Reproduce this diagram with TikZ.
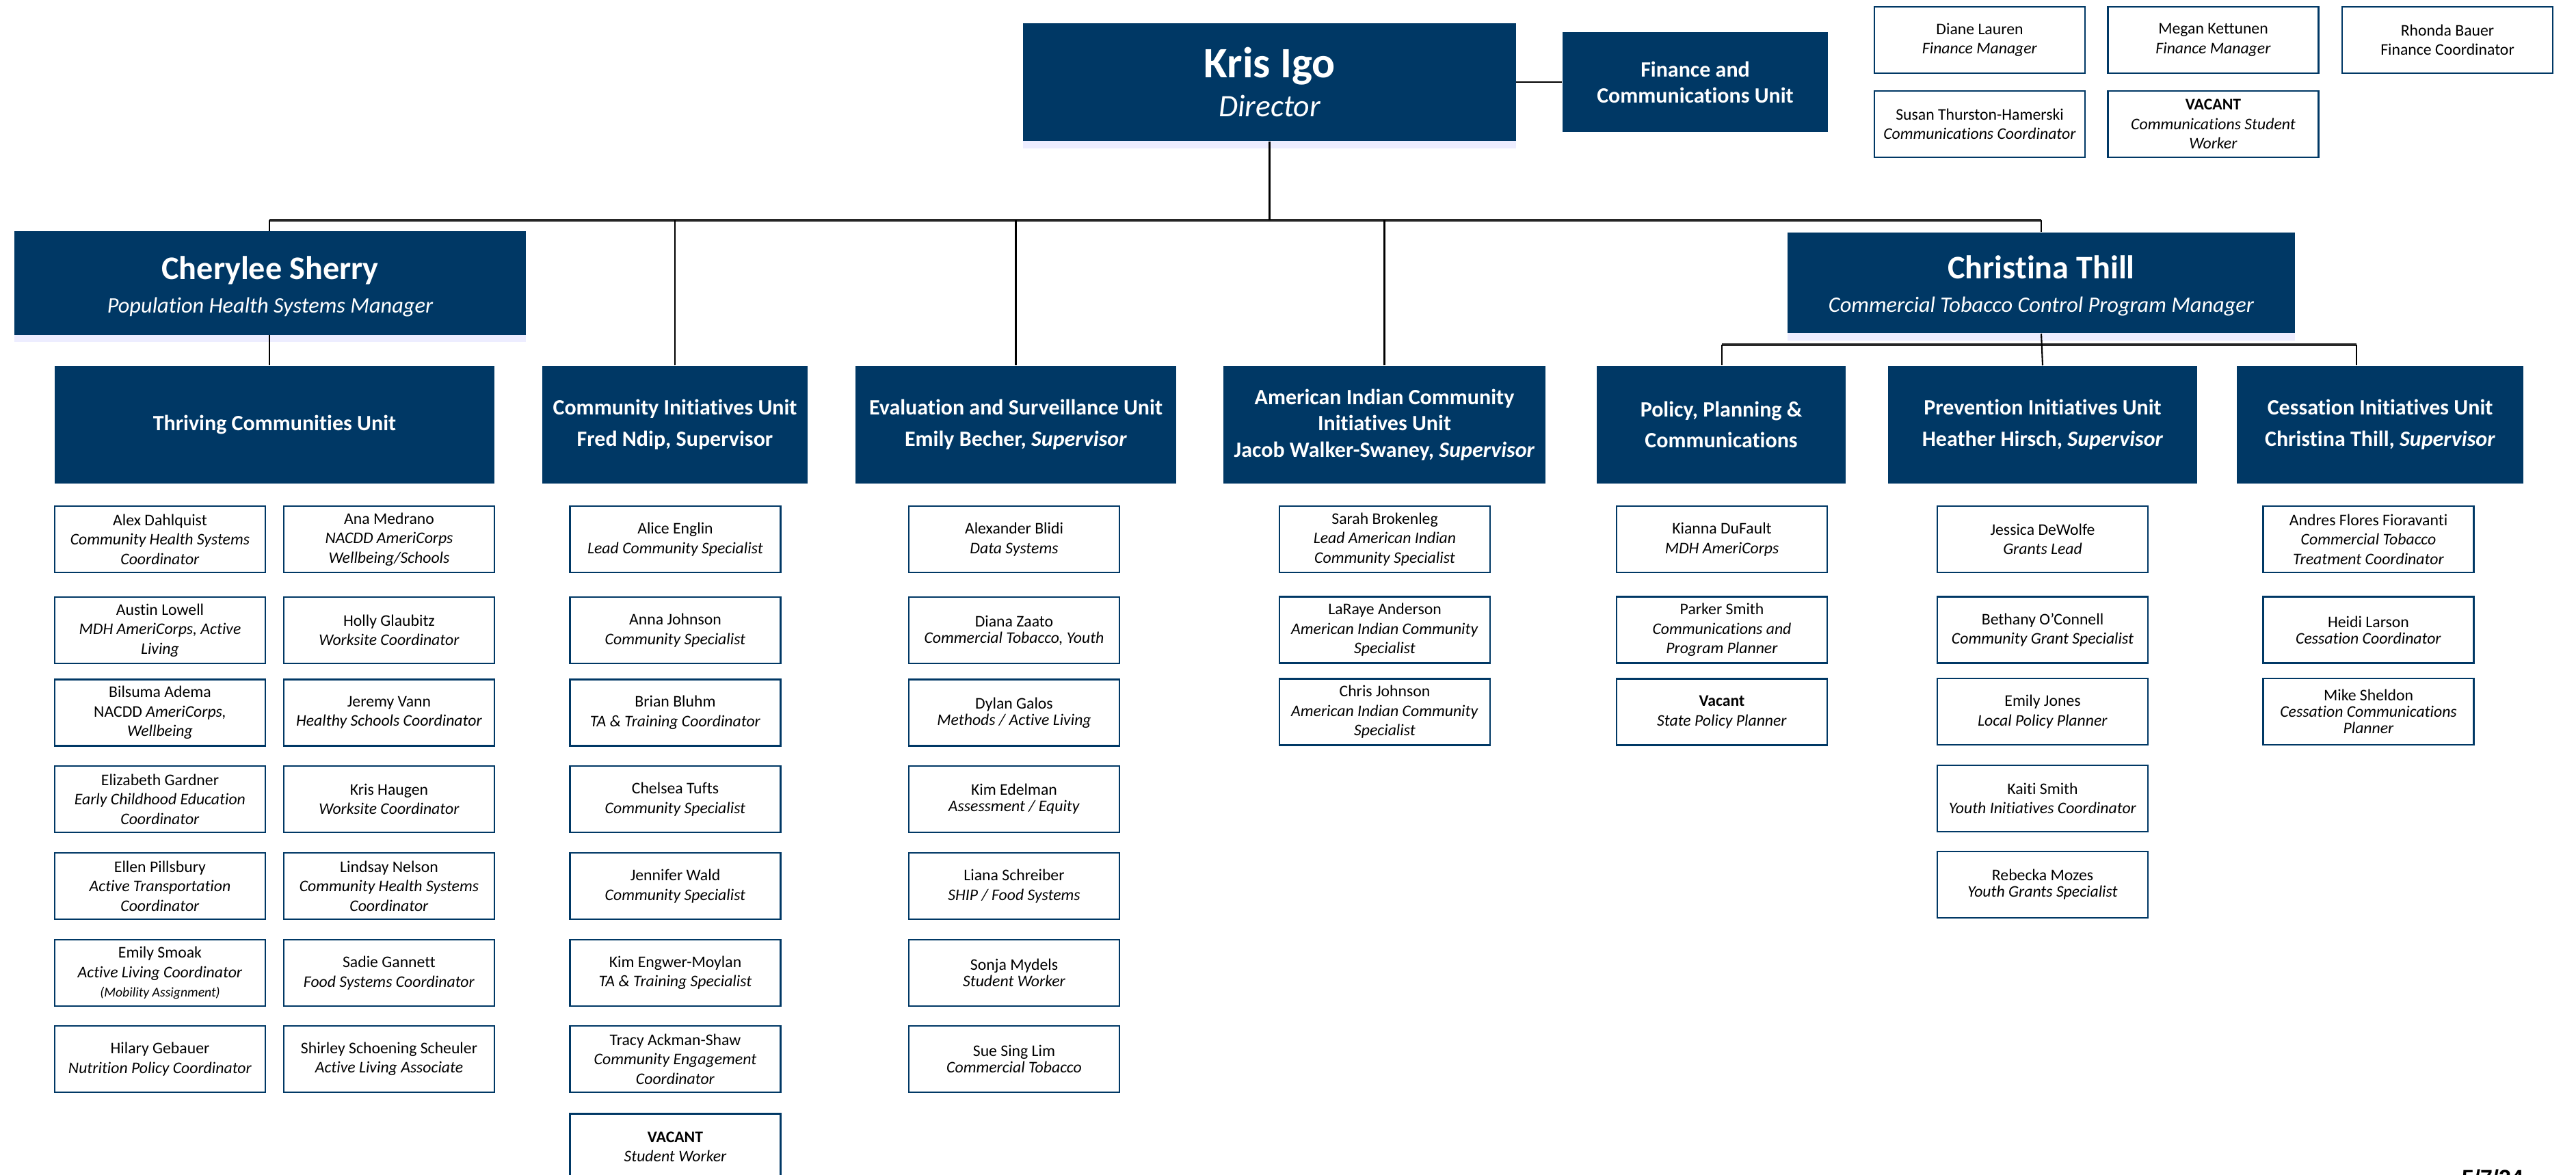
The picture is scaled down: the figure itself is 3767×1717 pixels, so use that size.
\documentclass[tikz,border=0pt]{standalone}
\usepackage{fontspec}
\setmainfont{Carlito}[Ligatures=NoCommon]
\newfontfamily\datefont{Liberation Sans}
\usetikzlibrary{shadows}
\definecolor{mdhblue}{RGB}{0,56,101}

\begin{document}
\begin{tikzpicture}[x=0.01cm,y=-0.01cm,
  boss/.style={fill=mdhblue,text=white,align=center,inner sep=0pt,
    drop shadow={shadow xshift=0pt,shadow yshift=-3pt,fill=blue!7,opacity=1}},
  unit/.style={fill=mdhblue,text=white,align=center,inner sep=0pt,minimum height=1.72cm,
    font=\fontsize{9.1}{13}\selectfont\bfseries},
  staff/.style={draw=mdhblue,line width=0.75pt,fill=white,align=center,inner sep=0pt,
    minimum width=3.08cm,minimum height=0.97cm,font=\fontsize{6.75}{8.1}\selectfont},
  snug/.style={font=\fontsize{6.75}{6.9}\selectfont},
  tie/.style={line width=0.6pt},
  bus/.style={line width=0.9pt,draw=black!85}]
\useasboundingbox (0,0) rectangle (3767,1717);

% director and finance
\node[boss,minimum width=7.2cm,minimum height=1.72cm,font=\fontsize{18}{16}\selectfont] (director) at (1856.5,120)
  {{\bfseries Kris Igo}\\{\fontsize{13}{16}\selectfont\itshape Director}};
\node[unit,minimum width=3.88cm,minimum height=1.46cm,font=\fontsize{9.1}{10.8}\selectfont\bfseries] (finunit) at (2479,120)
  {Finance and\\Communications Unit};
\node[staff] (fin1) at (2895,58.5) {Diane Lauren\\\textit{Finance Manager}};
\node[staff] (fin2) at (3236.5,58.5) {Megan Kettunen\\\textit{Finance Manager}};
\node[staff] (fin3) at (3579,58.5) {Rhonda Bauer\\Finance Coordinator};
\node[staff] (fin4) at (2895,181.5) {Susan Thurston-Hamerski\\\textit{Communications Coordinator}};
\node[staff] (fin5) at (3236.5,181.5) {\textbf{VACANT}\\\textit{Communications Student}\\\textit{Worker}};

% managers
\node[boss,minimum width=7.48cm,minimum height=1.51cm,text height=26.2pt,font=\fontsize{13.7}{14}\selectfont] (cherylee) at (395,414)
  {{\bfseries Cherylee Sherry}\\{\fontsize{9.2}{14}\selectfont\itshape Population Health Systems Manager}};
\node[boss,minimum width=7.42cm,minimum height=1.47cm,text height=26.2pt,font=\fontsize{13.7}{14}\selectfont] (christina) at (2985,413.5)
  {{\bfseries Christina Thill}\\{\fontsize{9.2}{14}\selectfont\itshape Commercial Tobacco Control Program Manager}};

% units
\node[unit,minimum width=6.43cm] (thriving) at (401.5,621) {Thriving Communities Unit};
\node[unit,minimum width=3.88cm] (comminit) at (987,621) {Community Initiatives Unit\\Fred Ndip, Supervisor};
\node[unit,minimum width=4.69cm] (evalunit) at (1485.5,621) {Evaluation and Surveillance Unit\\Emily Becher, \textit{Supervisor}};
\node[unit,minimum width=4.71cm,font=\fontsize{9.1}{11}\selectfont\bfseries] (aiunit) at (2024.5,621)
  {American Indian Community\\Initiatives Unit\\Jacob Walker-Swaney, \textit{Supervisor}};
\node[unit,minimum width=3.64cm] (policy) at (2517,621) {Policy, Planning \&\\Communications};
\node[unit,minimum width=4.52cm] (prevention) at (2987,621) {Prevention Initiatives Unit\\Heather Hirsch, \textit{Supervisor}};
\node[unit,minimum width=4.19cm] (cessation) at (3480.5,621) {Cessation Initiatives Unit\\Christina Thill, \textit{Supervisor}};

% connectors
\coordinate (busL) at (394,322);
\coordinate (busR) at (2985,322);
\coordinate (subL) at (2518,504);
\coordinate (subR) at (3446,504);
\draw[tie] (director.east) -- (finunit.west);
\draw[bus] (busL) -- (busR);
\draw[tie] (director.south) -- (director.south |- busL);
\draw[tie] (cherylee.north -| busL) -- (busL);
\draw[tie] (christina.north) -- (christina.north |- busR);
\draw[tie] (comminit.north) -- (comminit.north |- busL);
\draw[tie] (evalunit.north) -- (evalunit.north |- busL);
\draw[tie] (aiunit.north) -- (aiunit.north |- busL);
\draw[tie] (cherylee.south -| busL) -- (thriving.north -| busL);
\draw[bus] (subL) -- (subR);
\draw[tie] (christina.south) -- (prevention.north);
\draw[tie] (subL) -- (subL |- policy.north);
\draw[tie] (subR) -- (subR |- cessation.north);

% thriving communities staff
\node[staff] (tca1) at (234,788.5) {Alex Dahlquist\\\textit{Community Health Systems}\\\textit{Coordinator}};
\node[staff] (tca2) at (234,921.5) {Austin Lowell\\\textit{MDH AmeriCorps, Active}\\\textit{Living}};
\node[staff] (tca3) at (234,1042) {Bilsuma Adema\\NACDD \textit{AmeriCorps,}\\\textit{Wellbeing}};
\node[staff] (tca4) at (234,1168.5) {Elizabeth Gardner\\\textit{Early Childhood Education}\\\textit{Coordinator}};
\node[staff] (tca5) at (234,1295.5) {Ellen Pillsbury\\\textit{Active Transportation}\\\textit{Coordinator}};
\node[staff] (tca6) at (234,1422.5) {Emily Smoak\\\textit{Active Living Coordinator}\\{\fontsize{5.6}{8.1}\selectfont\itshape (Mobility Assignment)}};
\node[staff] (tca7) at (234,1548.5) {Hilary Gebauer\\\textit{Nutrition Policy Coordinator}};
\node[staff] (tcb1) at (569,788.5) {Ana Medrano\\\textit{NACDD AmeriCorps}\\\textit{Wellbeing/Schools}};
\node[staff] (tcb2) at (569,921.5) {Holly Glaubitz\\\textit{Worksite Coordinator}};
\node[staff] (tcb3) at (569,1042) {Jeremy Vann\\\textit{Healthy Schools Coordinator}};
\node[staff] (tcb4) at (569,1168.5) {Kris Haugen\\\textit{Worksite Coordinator}};
\node[staff] (tcb5) at (569,1295.5) {Lindsay Nelson\\\textit{Community Health Systems}\\\textit{Coordinator}};
\node[staff] (tcb6) at (569,1422.5) {Sadie Gannett\\\textit{Food Systems Coordinator}};
\node[staff] (tcb7) at (569,1548.5) {Shirley Schoening Scheuler\\\textit{Active Living Associate}};

% community initiatives staff
\node[staff] (ci1) at (987.5,788.5) {Alice Englin\\\textit{Lead Community Specialist}};
\node[staff] (ci2) at (987.5,921.5) {Anna Johnson\\\textit{Community Specialist}};
\node[staff] (ci3) at (987.5,1042) {Brian Bluhm\\\textit{TA \& Training Coordinator}};
\node[staff] (ci4) at (987.5,1168.5) {Chelsea Tufts\\\textit{Community Specialist}};
\node[staff] (ci5) at (987.5,1295.5) {Jennifer Wald\\\textit{Community Specialist}};
\node[staff] (ci6) at (987.5,1422.5) {Kim Engwer-Moylan\\\textit{TA \& Training Specialist}};
\node[staff] (ci7) at (987.5,1548.5) {Tracy Ackman-Shaw\\\textit{Community Engagement}\\\textit{Coordinator}};
\node[staff] (ci8) at (987.5,1677) {\textbf{VACANT}\\\textit{Student Worker}};

% evaluation staff
\node[staff] (ev1) at (1483,788.5) {Alexander Blidi\\\textit{Data Systems}};
\node[staff,snug] (ev2) at (1483,921.5) {Diana Zaato\\\textit{Commercial Tobacco, Youth}};
\node[staff,snug] (ev3) at (1483,1042) {Dylan Galos\\\textit{Methods / Active Living}};
\node[staff,snug] (ev4) at (1483,1168.5) {Kim Edelman\\\textit{Assessment / Equity}};
\node[staff] (ev5) at (1483,1295.5) {Liana Schreiber\\\textit{SHIP / Food Systems}};
\node[staff,snug] (ev6) at (1483,1422.5) {Sonja Mydels\\\textit{Student Worker}};
\node[staff,snug] (ev7) at (1483,1548.5) {Sue Sing Lim\\\textit{Commercial Tobacco}};

% american indian staff
\node[staff] (ai1) at (2025,788.5) {Sarah Brokenleg\\\textit{Lead American Indian}\\\textit{Community Specialist}};
\node[staff] (ai2) at (2025,921) {LaRaye Anderson\\\textit{American Indian Community}\\\textit{Specialist}};
\node[staff] (ai3) at (2025,1041) {Chris Johnson\\\textit{American Indian Community}\\\textit{Specialist}};

% policy staff
\node[staff] (pp1) at (2518,788.5) {Kianna DuFault\\\textit{MDH AmeriCorps}};
\node[staff] (pp2) at (2518,921) {Parker Smith\\\textit{Communications and}\\\textit{Program Planner}};
\node[staff] (pp3) at (2518,1041) {\textbf{Vacant}\\\textit{State Policy Planner}};

% prevention staff
\node[staff] (pv1) at (2987,788.5) {Jessica DeWolfe\\\textit{Grants Lead}};
\node[staff] (pv2) at (2987,921) {Bethany O’Connell\\\textit{Community Grant Specialist}};
\node[staff] (pv3) at (2987,1040.5) {Emily Jones\\\textit{Local Policy Planner}};
\node[staff] (pv4) at (2987,1167.5) {Kaiti Smith\\\textit{Youth Initiatives Coordinator}};
\node[staff,snug] (pv5) at (2987,1293.5) {Rebecka Mozes\\\textit{Youth Grants Specialist}};

% cessation staff
\node[staff] (cs1) at (3463.5,788.5) {Andres Flores Fioravanti\\\textit{Commercial Tobacco}\\\textit{Treatment Coordinator}};
\node[staff,snug] (cs2) at (3463.5,921) {Heidi Larson\\\textit{Cessation Coordinator}};
\node[staff,snug] (cs3) at (3463.5,1040.5) {Mike Sheldon\\\textit{Cessation Communications}\\\textit{Planner}};

\node[anchor=base,inner sep=0pt,font={\datefont\bfseries\fontsize{9.2}{11}\selectfont}] (stamp) at (3645,1733) {5/7/24};
\end{tikzpicture}
\end{document}
